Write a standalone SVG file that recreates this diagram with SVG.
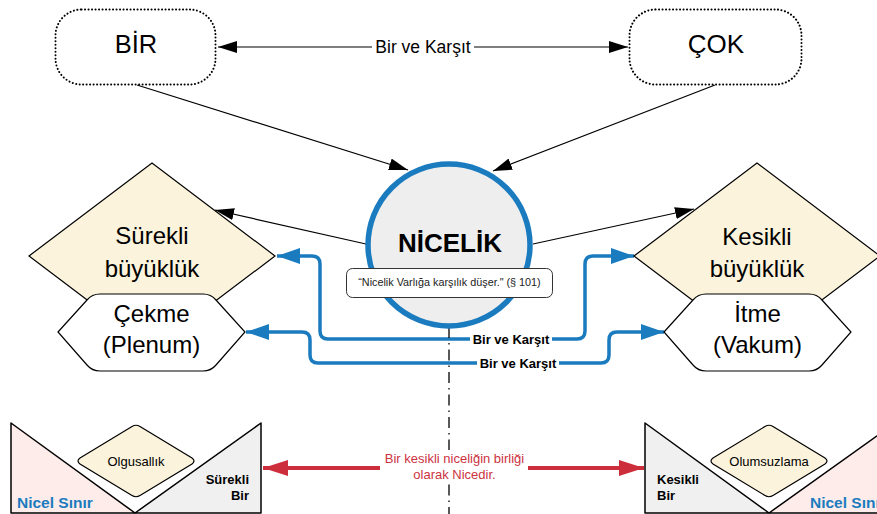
<svg xmlns="http://www.w3.org/2000/svg" width="877" height="514" viewBox="0 0 877 514">
<style>
text{font-family:"Liberation Sans",Arial,sans-serif;}
.big{font-size:24px;fill:#000;text-anchor:middle;}
.thin{fill:none;stroke:#000;stroke-width:1.2;}
.blue{fill:none;stroke:#1b7bbf;stroke-width:3.5;stroke-linejoin:round;}
.red{fill:none;stroke:#cc2e3c;stroke-width:4;}
.bl{font-size:13px;font-weight:bold;fill:#000;}
.nicel{font-size:15.5px;font-weight:bold;fill:#1b7bbf;}
.small{font-size:13px;fill:#000;text-anchor:middle;}
.redt{font-size:13px;fill:#cc3340;text-anchor:middle;}
.dia{fill:#fbf3dc;stroke:#000;stroke-width:1.2;}
.hex{fill:#fff;stroke:#000;stroke-width:1.2;}
</style>
<defs>
<marker id="ab" markerUnits="userSpaceOnUse" markerWidth="20" markerHeight="12" refX="19" refY="6" orient="auto-start-reverse">
<path d="M0,0 L19,6 L0,12 z" fill="#000"/>
</marker>
<marker id="au" markerUnits="userSpaceOnUse" markerWidth="24" markerHeight="16" refX="23" refY="8" orient="auto-start-reverse">
<path d="M0,0 L23,8 L0,16 z" fill="#1b7bbf"/>
</marker>
<marker id="ar" markerUnits="userSpaceOnUse" markerWidth="26" markerHeight="16" refX="25" refY="8" orient="auto">
<path d="M0,0 L25,8 L0,16 z" fill="#cc2e3c"/>
</marker>
</defs>

<g id="connectors">
<line class="thin" x1="218" y1="47" x2="628" y2="47" marker-start="url(#ab)" marker-end="url(#ab)"/>
<line class="thin" x1="137" y1="85" x2="408" y2="170" marker-end="url(#ab)"/>
<line class="thin" x1="715" y1="85" x2="493" y2="171" marker-end="url(#ab)"/>
<line class="thin" x1="366" y1="244" x2="215" y2="210" marker-end="url(#ab)"/>
<line class="thin" x1="533" y1="244" x2="694" y2="209" marker-end="url(#ab)"/>
<path class="blue" d="M277,256 L312,256 Q320,256 320,264 L320,331 Q320,339 328,339 L577,339 Q585,339 585,331 L585,264 Q585,256 593,256 L634,256" marker-start="url(#au)" marker-end="url(#au)"/>
<path class="blue" d="M246,332 L302,332 Q310,332 310,340 L310,355 Q310,363 318,363 L601,363 Q609,363 609,355 L609,340 Q609,332 617,332 L664,332" marker-start="url(#au)" marker-end="url(#au)"/>
<line x1="449" y1="327" x2="449" y2="514" stroke="#000" stroke-width="1.3" stroke-dasharray="11 5 1.5 5"/>
<line class="red" x1="380" y1="468" x2="263" y2="468" marker-end="url(#ar)"/>
<line class="red" x1="526" y1="468" x2="644" y2="468" marker-end="url(#ar)"/>
<rect x="372" y="38" width="102" height="18" fill="#fff"/>
<text x="423" y="53" style="font-size:17.5px" text-anchor="middle">Bir ve Karşıt</text>
<rect x="470" y="331" width="82" height="16" fill="#fff"/>
<text class="bl" x="511" y="343.5" text-anchor="middle">Bir ve Karşıt</text>
<rect x="477" y="355" width="82" height="16" fill="#fff"/>
<text class="bl" x="518" y="367.5" text-anchor="middle">Bir ve Karşıt</text>
<rect x="382" y="450" width="146" height="33" fill="#fff"/>
<text class="redt" x="454.5" y="463">Bir kesikli niceliğin birliği</text>
<text class="redt" x="454.5" y="479">olarak Nicedir.</text>
</g>

<g id="bir">
<rect x="55.5" y="9.5" width="160" height="75" rx="26" fill="#fff" stroke="#000" stroke-width="2" stroke-dasharray="0.1 3.4" stroke-linecap="round"/>
<text x="136" y="53" style="font-size:25.5px" text-anchor="middle">BİR</text>
</g>
<g id="cok">
<rect x="629.5" y="9.5" width="172" height="75" rx="26" fill="#fff" stroke="#000" stroke-width="2" stroke-dasharray="0.1 3.4" stroke-linecap="round"/>
<text x="716" y="53" style="font-size:26px" text-anchor="middle">ÇOK</text>
</g>

<g id="surekli-buyukluk">
<polygon class="dia" points="29,256 152,163 275,256 152,349"/>
<text class="big" x="152" y="244">Sürekli</text>
<text class="big" x="152" y="277">büyüklük</text>
</g>
<g id="kesikli-buyukluk">
<polygon class="dia" points="634,256 757,163 880,256 757,349"/>
<text class="big" x="757" y="245">Kesikli</text>
<text class="big" x="757" y="277">büyüklük</text>
</g>

<g id="cekme">
<path class="hex" d="M58,332 L87,300 Q92,294 100,294 L203,294 Q211,294 216,300 L245,332 L216,365 Q211,371 203,371 L100,371 Q92,371 87,365 Z"/>
<text class="big" x="151.5" y="322">Çekme</text>
<text class="big" x="151.5" y="353">(Plenum)</text>
</g>
<g id="itme">
<path class="hex" d="M664,332 L693,300 Q698,294 706,294 L809,294 Q817,294 822,300 L851,332 L822,365 Q817,371 809,371 L706,371 Q698,371 693,365 Z"/>
<text class="big" x="757.5" y="322">İtme</text>
<text class="big" x="757.5" y="353">(Vakum)</text>
</g>

<g id="nicelik">
<circle cx="449" cy="245" r="81" fill="#eeeeee" stroke="#1b7bbf" stroke-width="5.5"/>
<text x="450" y="252" style="font-size:26px;font-weight:bold" text-anchor="middle">NİCELİK</text>
</g>
<g id="alinti">
<rect x="346.5" y="268.5" width="206" height="29" rx="6" fill="#fff" stroke="#333" stroke-width="1"/>
<text x="449.5" y="286" style="font-size:10.8px;fill:#222" text-anchor="middle">“Nicelik Varlığa karşılık düşer." (§ 101)</text>
</g>

<g id="sol-sinir">
<polygon points="11,423 11,513 135,513" fill="#fdece9" stroke="#000" stroke-width="1.5" stroke-linejoin="round"/>
<polygon points="261,423 261,513 135,513" fill="#f0f0f0" stroke="#000" stroke-width="1.5" stroke-linejoin="round"/>
<text class="nicel" x="17" y="508">Nicel Sınır</text>
<text class="bl" x="249" y="484" text-anchor="end">Sürekli</text>
<text class="bl" x="249" y="500" text-anchor="end">Bir</text>
</g>
<g id="olgusallik">
<path class="dia" d="M80,458 L132,426.5 Q136,424 140,426.5 L192,458 Q196,461 192,464 L140,495.5 Q136,498 132,495.5 L80,464 Q76,461 80,458 Z"/>
<text class="small" x="136" y="465.5">Olgusallık</text>
</g>

<g id="sag-sinir">
<polygon points="645,423 645,513 769,513" fill="#f0f0f0" stroke="#000" stroke-width="1.5" stroke-linejoin="round"/>
<polygon points="895,423 895,513 769,513" fill="#fdece9" stroke="#000" stroke-width="1.5" stroke-linejoin="round"/>
<text class="nicel" x="810" y="508">Nicel Sınır</text>
<text class="bl" x="657" y="484">Kesikli</text>
<text class="bl" x="657" y="500">Bir</text>
</g>
<g id="olumsuzlama">
<path class="dia" d="M713,458 L765,426.5 Q769,424 773,426.5 L825,458 Q829,461 825,464 L773,495.5 Q769,498 765,495.5 L713,464 Q709,461 713,458 Z"/>
<text class="small" x="769" y="465.5">Olumsuzlama</text>
</g>
</svg>
